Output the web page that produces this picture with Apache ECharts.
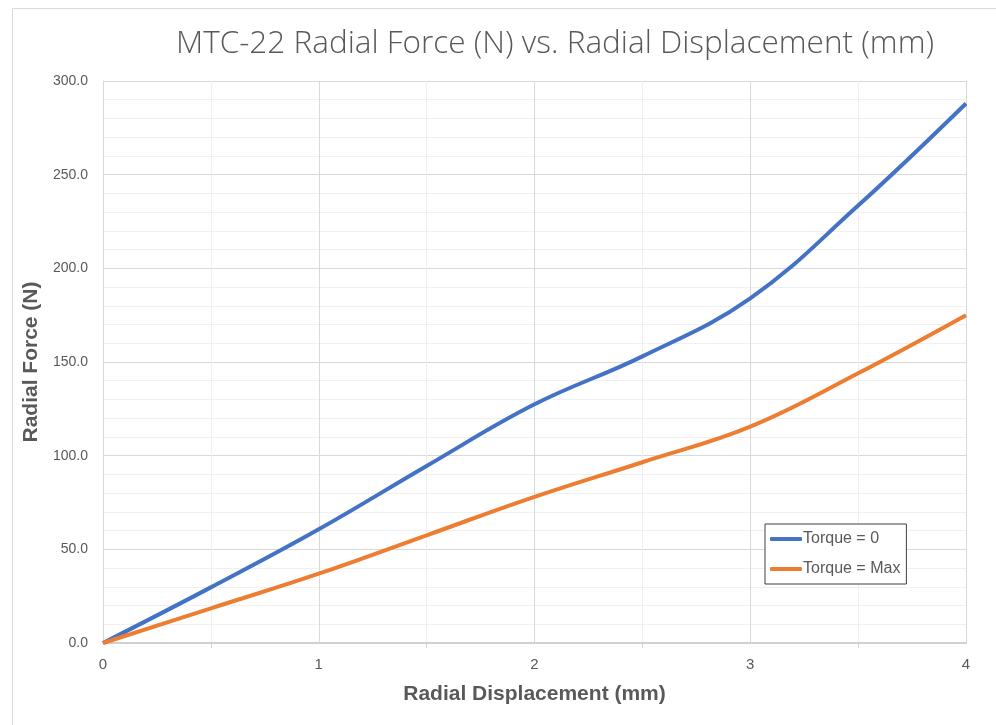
<!DOCTYPE html>
<html>
<head>
<meta charset="utf-8">
<script src="https://cdn.jsdelivr.net/npm/echarts@6/dist/echarts.min.js"></script>
<style>
  html, body { margin: 0; padding: 0; background: #fff; }
  #chart { width: 996px; height: 725px; }
</style>
</head>
<body>
<div id="chart"></div>
<script>
// displacement (mm)
var displacement = [0, 0.5, 1, 1.5, 2, 2.5, 3, 3.5, 4];
// radial force (N)
var torqueZero = [0, 29.7, 60.7, 94.5, 127.4, 153.0, 184.0, 233.5, 288.0];
var torqueMax = [0, 18.5, 37.0, 57.5, 78.0, 96.5, 115.5, 144.0, 175.0];
var seriesNames = ['Torque = 0', 'Torque = Max'];

function pairs(xs, ys) {
  return xs.map(function (x, i) { return [x, ys[i]]; });
}

var chart = echarts.init(document.getElementById('chart'));
chart.setOption({
  animation: false,
  color: ['#4472C4', '#ED7D31'],
  title: {
    text: 'MTC-22 Radial Force (N) vs. Radial Displacement (mm)',
    left: 550,
    textAlign: 'center',
    top: 23,
    textStyle: {
      fontFamily: 'Open Sans',
      fontWeight: 300,
      fontSize: 31.5,
      color: '#595959'
    }
  },
  graphic: [{
    type: 'rect',
    shape: { x: 12.5, y: 8.5, width: 1000, height: 800 },
    style: { fill: 'none', stroke: '#d9d9d9', lineWidth: 1 },
    silent: true
  }],
  grid: { left: 103, right: 30, top: 81, bottom: 82 },
  legend: {
    orient: 'vertical',
    left: 765,
    top: 524,
    padding: [6, 6, 6, 5],
    itemGap: 12,
    itemWidth: 32,
    itemHeight: 4,
    icon: 'roundRect',
    borderColor: '#404040',
    borderWidth: 1,
    backgroundColor: '#fff',
    textStyle: {
      fontFamily: 'Liberation Sans',
      fontSize: 16,
      color: '#595959',
      lineHeight: 18,
      padding: [0, 0, 0, -4]
    },
    data: seriesNames
  },
  xAxis: {
    type: 'value',
    min: 0,
    max: 4,
    interval: 1,
    name: 'Radial Displacement (mm)',
    nameLocation: 'middle',
    nameGap: 41,
    nameTextStyle: {
      fontFamily: 'Liberation Sans',
      fontWeight: 'bold',
      fontSize: 21,
      color: '#595959'
    },
    axisLine: { lineStyle: { color: '#d0d0d0', width: 2 } },
    axisTick: { show: false },
    minorTick: { show: true, splitNumber: 2, length: 5, lineStyle: { color: '#d0d0d0' } },
    axisLabel: {
      margin: 14,
      fontFamily: 'Liberation Sans',
      fontSize: 15,
      color: '#595959'
    },
    splitLine: { show: true, lineStyle: { color: '#d9d9d9', width: 1 } },
    minorSplitLine: { show: true, lineStyle: { color: '#f0f0f0', width: 1 } }
  },
  yAxis: {
    type: 'value',
    min: 0,
    max: 300,
    interval: 50,
    name: 'Radial Force (N)',
    nameLocation: 'middle',
    nameGap: 59,
    nameTextStyle: {
      fontFamily: 'Liberation Sans',
      fontWeight: 'bold',
      fontSize: 21,
      color: '#595959'
    },
    axisLine: { show: true, lineStyle: { color: '#d9d9d9' } },
    axisTick: { show: false },
    minorTick: { show: false, splitNumber: 5 },
    axisLabel: {
      margin: 15,
      fontFamily: 'Liberation Sans',
      fontSize: 14,
      color: '#595959',
      formatter: function (v) { return v.toFixed(1); }
    },
    splitLine: { show: true, lineStyle: { color: '#d9d9d9', width: 1 } },
    minorSplitLine: { show: true, lineStyle: { color: '#f0f0f0', width: 1 } }
  },
  series: [
    {
      name: seriesNames[0],
      type: 'line',
      smooth: 0.4,
      symbol: 'none',
      lineStyle: { width: 4, color: '#4472C4' },
      data: pairs(displacement, torqueZero)
    },
    {
      name: seriesNames[1],
      type: 'line',
      smooth: 0.4,
      symbol: 'none',
      lineStyle: { width: 4, color: '#ED7D31' },
      data: pairs(displacement, torqueMax)
    }
  ]
});
</script>
</body>
</html>
